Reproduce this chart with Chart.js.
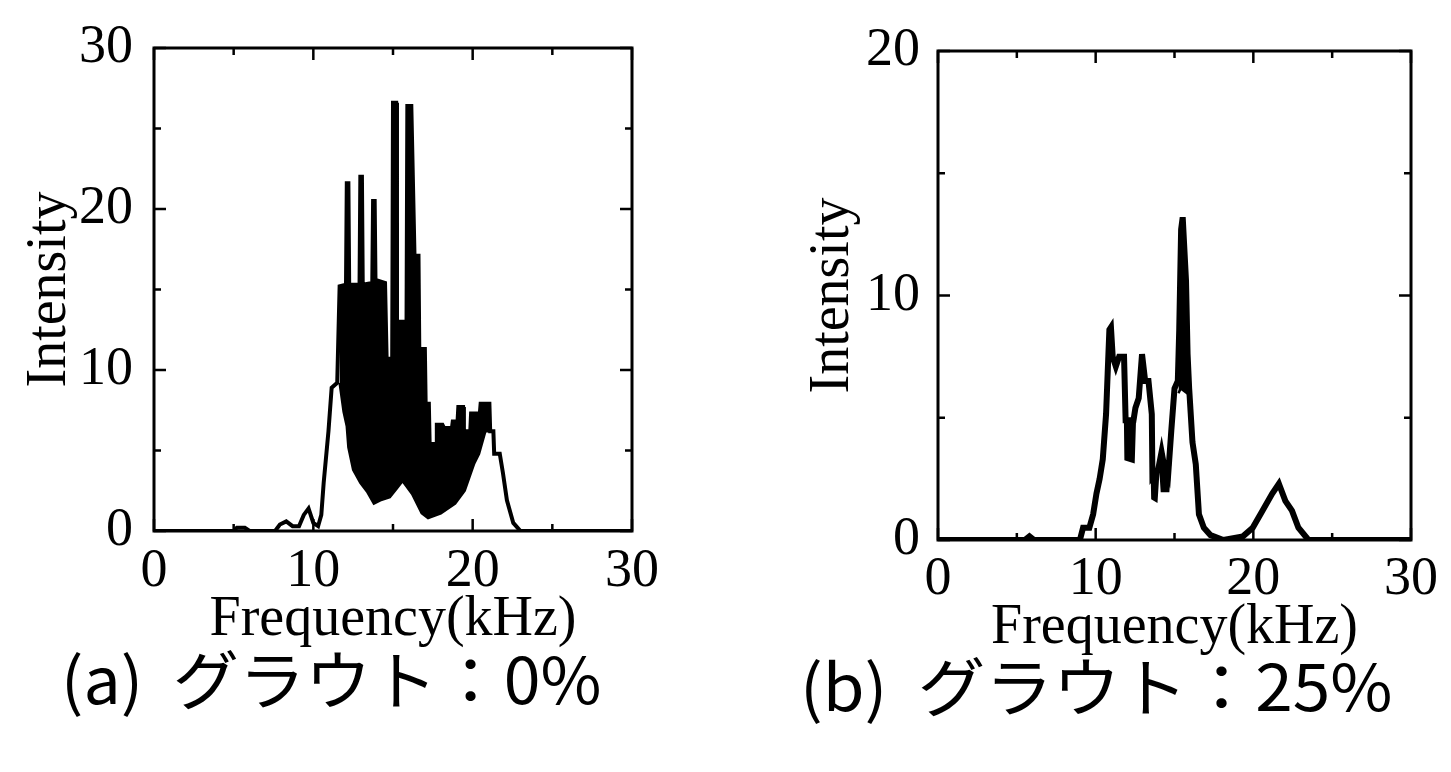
<!DOCTYPE html>
<html>
<head>
<meta charset="utf-8">
<script src="https://cdn.jsdelivr.net/npm/chart.js@4.4.0/dist/chart.umd.min.js"></script>
<style>
  html, body { margin: 0; padding: 0; background: #fff; }
  body { width: 1451px; height: 772px; position: relative; overflow: hidden; }
  .panel { position: absolute; top: 0; height: 772px; }
  #panelA { left: 0; width: 720px; }
  #panelB { left: 720px; width: 731px; }
  .caption {
    position: absolute;
    font-family: "Noto Sans CJK JP", sans-serif;
    font-size: 64px;
    line-height: 64px;
    color: #000;
    white-space: pre;
    transform-origin: 0 50%;
  }
  #capA { left: 61px; top: 644px; }
  #capB { left: 800px; top: 651px; }
</style>
</head>
<body>
<div class="panel" id="panelA"><canvas id="chartA"></canvas></div>
<div class="panel" id="panelB"><canvas id="chartB"></canvas></div>
<div class="caption" id="capA" data-span="540">(a)  グラウト：0%</div>
<div class="caption" id="capB" data-span="592">(b)  グラウト：25%</div>
<script>
// (a) grout 0% : outline of the spectrum
const freqA = [0, 5.0, 5.2, 5.7, 6.0, 7.6, 7.9, 8.3, 8.7, 9.1, 9.4, 9.7, 10.0, 10.3, 10.5, 10.65,
  10.95, 11.15, 11.5, 11.65, 12.05, 12.1, 12.2, 12.25, 12.9, 12.95, 13.05, 13.1, 13.7, 13.75,
  13.85, 13.9, 14.5, 14.6, 14.95, 15.0, 15.2, 15.25, 15.85, 15.9, 16.15, 16.35, 16.6, 16.65,
  17.0, 17.05, 17.25, 17.3, 17.7, 17.75, 18.1, 18.2, 18.7, 18.75, 19.05, 19.1, 19.4, 19.45,
  19.85, 19.9, 20.45, 20.5, 21.05, 21.1, 21.3, 21.35, 21.7, 21.9, 22.15, 22.55, 23.0, 30];
const intensityA = [0, 0, 0.2, 0.2, 0, 0, 0.4, 0.6, 0.3, 0.3, 1.0, 1.4, 0.5, 0.3, 1.0, 3.0,
  6.2, 8.9, 9.2, 15.2, 15.3, 21.6, 21.6, 15.3, 15.3, 22.0, 22.0, 15.3, 15.4, 20.5,
  20.5, 15.6, 15.4, 10.7, 10.7, 26.6, 26.6, 13.0, 13.0, 26.4, 26.4, 17.1, 17.1, 11.3,
  11.3, 7.9, 7.9, 5.4, 5.4, 6.6, 6.6, 6.4, 6.4, 6.8, 6.8, 7.7, 7.7, 6.2,
  6.2, 7.3, 7.3, 7.9, 7.9, 6.2, 6.2, 4.8, 4.8, 3.6, 1.9, 0.5, 0, 0];
// lower edge of the dense (rapidly oscillating) band
const bandFreqA = [11.65, 11.9, 12.1, 12.2, 12.5, 12.95, 13.4, 13.8, 14.2, 14.8, 15.2, 15.6,
  16.2, 16.8, 17.2, 18.0, 18.9, 19.5, 20.1, 20.4, 20.8, 21.1];
const bandLowA = [9.2, 7.4, 6.5, 5.2, 3.8, 3.0, 2.4, 1.7, 1.9, 2.1, 2.6, 3.1,
  2.3, 1.1, 0.8, 1.1, 1.7, 2.5, 4.2, 4.8, 6.2, 6.2];

// (b) grout 25%
const freqB = [0, 5.5, 5.8, 6.1, 9.0, 9.2, 9.6, 9.84, 10.05, 10.25, 10.45, 10.66, 10.76, 10.87,
  10.97, 11.08, 11.28, 11.49, 11.8, 11.9, 12.4, 12.52, 12.73, 12.94, 13.14, 13.35, 13.56, 13.6,
  13.97, 14.18, 14.38, 14.59, 14.8, 15.0, 15.21, 15.3, 15.42, 15.52, 15.73, 15.83, 15.93, 16.14,
  16.35, 16.55, 16.86, 17.28, 18.1, 19.34, 19.96, 20.58, 21.2, 21.62, 22.03, 22.45, 22.86, 23.5, 30];
const intensityB = [0, 0, 0.15, 0, 0, 0.5, 0.5, 1.05, 1.9, 2.5, 3.3, 5.15, 6.8, 8.6,
  8.7, 7.5, 7.1, 7.5, 7.5, 4.9, 4.9, 5.4, 5.8, 7.6, 6.5, 6.5, 5.15, 2.6,
  2.9, 3.6, 2.9, 2.6, 4.5, 6.2, 6.5, 8.6, 12.7, 13.2, 10.6, 7.6, 6.2, 4.0,
  3.1, 1.05, 0.5, 0.2, 0, 0.15, 0.5, 1.2, 1.9, 2.3, 1.6, 1.2, 0.5, 0, 0];
const bandFreqB = [11.85, 11.9, 12.4, 12.5, 13.0, 13.5, 13.6, 13.85, 13.97, 14.0, 14.1, 14.2, 14.6, 14.75, 15.0, 15.25, 15.4, 15.8, 15.85];
const bandLowB = [6.0, 3.3, 3.2, 5.3, null, 5.0, 1.7, 1.6, 2.8, null, 3.0, 2.0, 2.0, 3.5, null, 6.0, 6.2, 6.0, 7.0];

// tick values
const xMajor = [0, 10, 20, 30];
const xMinor = [5, 15, 25];
const yMajorA = [0, 10, 20, 30];
const yMinorA = [5, 15, 25];
const yMajorB = [0, 10, 20];
const yMinorB = [5, 15];

const toPoints = (xs, ys) => xs.map((x, i) => ({ x: x, y: ys[i] }));

// box frame with inward ticks on all four sides
const frameTicks = {
  id: 'frameTicks',
  afterDatasetsDraw(chart, args, opts) {
    const { ctx, chartArea: a, scales: { x, y } } = chart;
    ctx.save();
    ctx.strokeStyle = '#000';
    ctx.lineWidth = 3;
    ctx.strokeRect(a.left, a.top, a.right - a.left, a.bottom - a.top);
    ctx.lineWidth = 2.5;
    const xTicks = (list, len) => list.forEach(v => {
      const p = x.getPixelForValue(v);
      ctx.beginPath();
      ctx.moveTo(p, a.bottom); ctx.lineTo(p, a.bottom - len);
      ctx.moveTo(p, a.top); ctx.lineTo(p, a.top + len);
      ctx.stroke();
    });
    const yTicks = (list, len) => list.forEach(v => {
      const p = y.getPixelForValue(v);
      ctx.beginPath();
      ctx.moveTo(a.left, p); ctx.lineTo(a.left + len, p);
      ctx.moveTo(a.right, p); ctx.lineTo(a.right - len, p);
      ctx.stroke();
    });
    xTicks(opts.xMajor, 12);
    xTicks(opts.xMinor, 7);
    yTicks(opts.yMajor, 12);
    yTicks(opts.yMinor, 7);
    ctx.restore();
  }
};

const serif = '"Liberation Serif", "Times New Roman", serif';

function makeChart(id, cfg) {
  return new Chart(document.getElementById(id), {
    type: 'line',
    data: {
      datasets: [
        {
          data: toPoints(cfg.freq, cfg.intensity),
          borderColor: '#000',
          borderWidth: cfg.lineWidth,
          pointRadius: 0,
          tension: 0,
          fill: false
        },
        {
          data: toPoints(cfg.bandFreq, cfg.bandLow),
          borderColor: '#000',
          backgroundColor: '#000',
          borderWidth: 2.5,
          pointRadius: 0,
          tension: 0,
          spanGaps: false,
          fill: 0
        }
      ]
    },
    options: {
      responsive: true,
      maintainAspectRatio: false,
      animation: false,
      layout: { padding: cfg.padding },
      plugins: {
        legend: { display: false },
        tooltip: { enabled: false },
        frameTicks: { xMajor: xMajor, xMinor: xMinor, yMajor: cfg.yMajor, yMinor: cfg.yMinor }
      },
      scales: {
        x: {
          type: 'linear',
          min: 0,
          max: 30,
          grid: { display: false, drawTicks: false },
          border: { display: false },
          ticks: {
            stepSize: 10,
            color: '#000',
            padding: cfg.xTickPad,
            maxRotation: 0,
            font: { family: serif, size: 54, lineHeight: 1 }
          },
          title: {
            display: true,
            text: 'Frequency(kHz)',
            color: '#000',
            padding: 0,
            font: { family: serif, size: 56, lineHeight: 1 }
          },
          afterFit: s => { s.height = cfg.xHeight; }
        },
        y: {
          min: 0,
          max: cfg.yMax,
          grid: { display: false, drawTicks: false },
          border: { display: false },
          ticks: {
            stepSize: 10,
            color: '#000',
            padding: cfg.yTickPad,
            font: { family: serif, size: 54, lineHeight: 1 }
          },
          title: {
            display: true,
            text: 'Intensity',
            color: '#000',
            padding: { top: cfg.yTitlePad, bottom: 0 },
            font: { family: serif, size: 56, lineHeight: 1 }
          },
          afterFit: s => { s.width = cfg.yWidth; }
        }
      }
    },
    plugins: [frameTicks]
  });
}

makeChart('chartA', {
  freq: freqA, intensity: intensityA, bandFreq: bandFreqA, bandLow: bandLowA,
  lineWidth: 4, yMax: 30, yMajor: yMajorA, yMinor: yMinorA,
  padding: { left: 0, right: 88, top: 43, bottom: 124 },
  xHeight: 117, xTickPad: 14, yWidth: 154, yTickPad: 21, yTitlePad: 22
});

makeChart('chartB', {
  freq: freqB, intensity: intensityB, bandFreq: bandFreqB, bandLow: bandLowB,
  lineWidth: 6, yMax: 20, yMajor: yMajorB, yMinor: yMinorB,
  padding: { left: 0, right: 29, top: 51, bottom: 116 },
  xHeight: 116, xTickPad: 13, yWidth: 218, yTickPad: 18, yTitlePad: 85
});

// fit each caption to the width it has in the figure
document.querySelectorAll('.caption').forEach(el => {
  const span = Number(el.dataset.span);
  el.style.transform = 'scaleX(' + (span / el.offsetWidth) + ')';
});
</script>
</body>
</html>
